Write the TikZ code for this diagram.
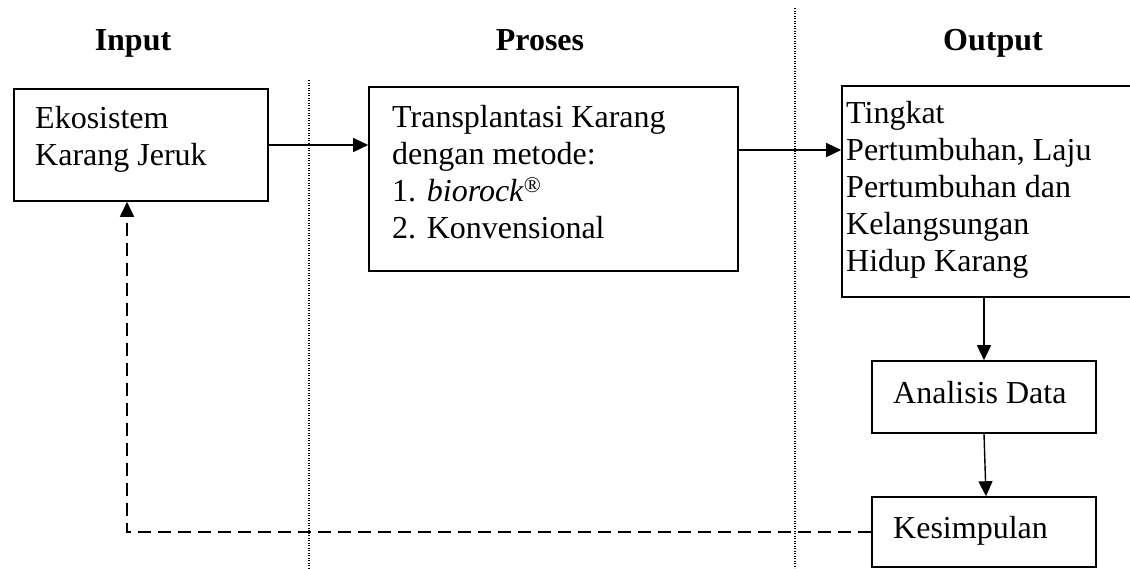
\documentclass[tikz,border=0pt]{standalone}
\usepackage{fontspec}
\setmainfont{Liberation Serif}
\usetikzlibrary{arrows.meta}
\begin{document}
\begin{tikzpicture}[x=1pt,y=-1pt,
  box/.style={draw,line width=1.6pt,rectangle,inner sep=0pt},
  txt/.style={inner sep=0pt,align=left,font=\fontsize{32}{37}\selectfont},
  hdr/.style={inner sep=0pt,font=\fontsize{32}{37}\selectfont\bfseries},
  arr/.style={line width=1.4pt,-{Triangle[length=15pt,width=14pt]}},
  darr/.style={line width=1.8pt,dash pattern=on 13pt off 7pt,-{Triangle[length=15pt,width=14pt]}},
  sep/.style={line width=1.3pt,dash pattern=on 1.2pt off 1.3pt}]
\useasboundingbox (0,0) rectangle (1130,568);
% column separators
\draw[sep] (309,80) -- (309,568);
\draw[sep] (795,8) -- (795,568);
% headers
\node[hdr,anchor=base] (hin) at (133,50) {Input};
\node[hdr,anchor=base] (hpr) at (540,50) {Proses};
\node[hdr,anchor=base] (hout) at (993,50) {Output};
% boxes
\node[box,minimum width=254pt,minimum height=112pt] (eko) at (141,145) {};
\node[box,minimum width=369pt,minimum height=184pt] (trans) at (553.5,179) {};
\node[box,minimum width=290pt,minimum height=211pt] (ting) at (987,191.5) {};
\node[box,minimum width=224pt,minimum height=72pt] (anal) at (984,397) {};
\node[box,minimum width=224pt,minimum height=70pt] (kes) at (984,532) {};
% texts
\node[txt,anchor=north west] (tEko) at (35,102.1) {\strut Ekosistem\\Karang Jeruk};
\node[txt,anchor=north west] (tTrans) at (392,101.1) {\strut Transplantasi Karang\\dengan metode:\\1. \textit{biorock}\textsuperscript{®}\\2. Konvensional};
\node[txt,anchor=north west] (tTing) at (846,97.1) {\strut Tingkat\\Pertumbuhan, Laju\\Pertumbuhan dan\\Kelangsungan\\Hidup Karang};
\node[txt,anchor=base west] (tAnal) at (893,403) {Analisis Data};
\node[txt,anchor=base west] (tKes) at (893,538) {Kesimpulan};
% connectors
\draw[arr] (eko.east) -- (eko.east -| trans.west);
\draw[arr] (trans.east |- {(0,150)}) -- (ting.west |- {(0,150)});
\draw[arr] (ting.south -| anal.north) -- (anal.north);
\draw[arr] (anal.south) -- ([xshift=2pt]kes.north);
\draw[darr] (kes.west) -| ([xshift=-14pt]eko.south);
\end{tikzpicture}
\end{document}
